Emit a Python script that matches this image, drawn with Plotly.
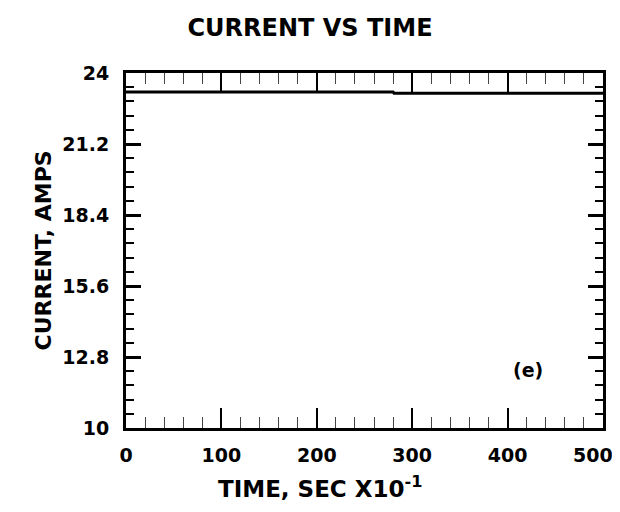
import plotly.graph_objects as go

# Data
time_vals = [0, 280, 281, 500]
current_vals = [23.25, 23.25, 23.2, 23.2]
x_tick_vals = [0, 100, 200, 300, 400, 500]
x_tick_text = ["0", "100", "200", "300", "400", "500"]
y_tick_vals = [10, 12.8, 15.6, 18.4, 21.2, 24]
y_tick_text = ["10", "12.8", "15.6", "18.4", "21.2", "24"]

FONT = "DejaVu Sans, Liberation Sans, Arial, sans-serif"

fig = go.Figure()
fig.add_trace(go.Scatter(x=time_vals, y=current_vals, mode="lines",
                         line=dict(color="black", width=3), showlegend=False,
                         hoverinfo="skip"))

# last x tick label is pulled inward (as in the original) so it fits the page
shown_x_text = x_tick_text[:-1] + [""]

fig.update_layout(
    width=612, height=504,
    margin=dict(l=118, r=17, t=65, b=84, autoexpand=False),
    paper_bgcolor="white", plot_bgcolor="white",
    font=dict(family=FONT, color="black"),
    title=dict(text="<b>CURRENT VS TIME</b>", x=302 / 612, xref="container", xanchor="center",
               y=1 - 20 / 504, yref="container", yanchor="middle",
               font=dict(size=24, family=FONT)),
    annotations=[
        dict(text="<b>TIME, SEC X10<sup>-1</sup></b>", xref="paper", yref="paper",
             x=0.407, y=-0.166, xanchor="center", yanchor="middle",
             showarrow=False, font=dict(size=23, family=FONT)),
        dict(text="<b>CURRENT, AMPS</b>", xref="paper", yref="paper",
             x=-0.174, y=0.50, xanchor="center", yanchor="middle",
             textangle=-90, showarrow=False, font=dict(size=22, family=FONT)),
        dict(text="<b>(e)</b>", x=421, y=12.3, xref="x", yref="y",
             showarrow=False, font=dict(size=19, family=FONT)),
        dict(text="<b>" + x_tick_text[-1] + "</b>", x=x_tick_vals[-1], xref="x",
             y=-0.076, yref="paper", xanchor="right", yanchor="middle", xshift=12,
             showarrow=False, font=dict(size=19, family=FONT)),
    ],
)

fig.update_xaxes(
    range=[0, 500], showgrid=False, zeroline=False, automargin=False,
    showline=True, linecolor="black", linewidth=3, mirror="ticks",
    ticks="inside", ticklen=20, tickwidth=2, tickcolor="black",
    tickvals=x_tick_vals, ticktext=shown_x_text,
    tickfont=dict(size=19, family=FONT, weight="bold"),
    ticklabelstandoff=8,
    minor=dict(ticks="inside", ticklen=11, tickwidth=1, tickcolor="#444", dtick=20, tick0=0,
               showgrid=False),
)
fig.update_yaxes(
    range=[10, 24], showgrid=False, zeroline=False, automargin=False,
    showline=True, linecolor="black", linewidth=3, mirror="ticks",
    ticks="inside", ticklen=15, tickwidth=3, tickcolor="black",
    tickvals=y_tick_vals, ticktext=y_tick_text,
    tickfont=dict(size=19, family=FONT, weight="bold"),
    ticklabelstandoff=10, ticklabeloverflow="allow",
    minor=dict(ticks="inside", ticklen=8, tickwidth=2, tickcolor="black", dtick=0.56, tick0=10,
               showgrid=False),
)

fig.write_html("out.html")
